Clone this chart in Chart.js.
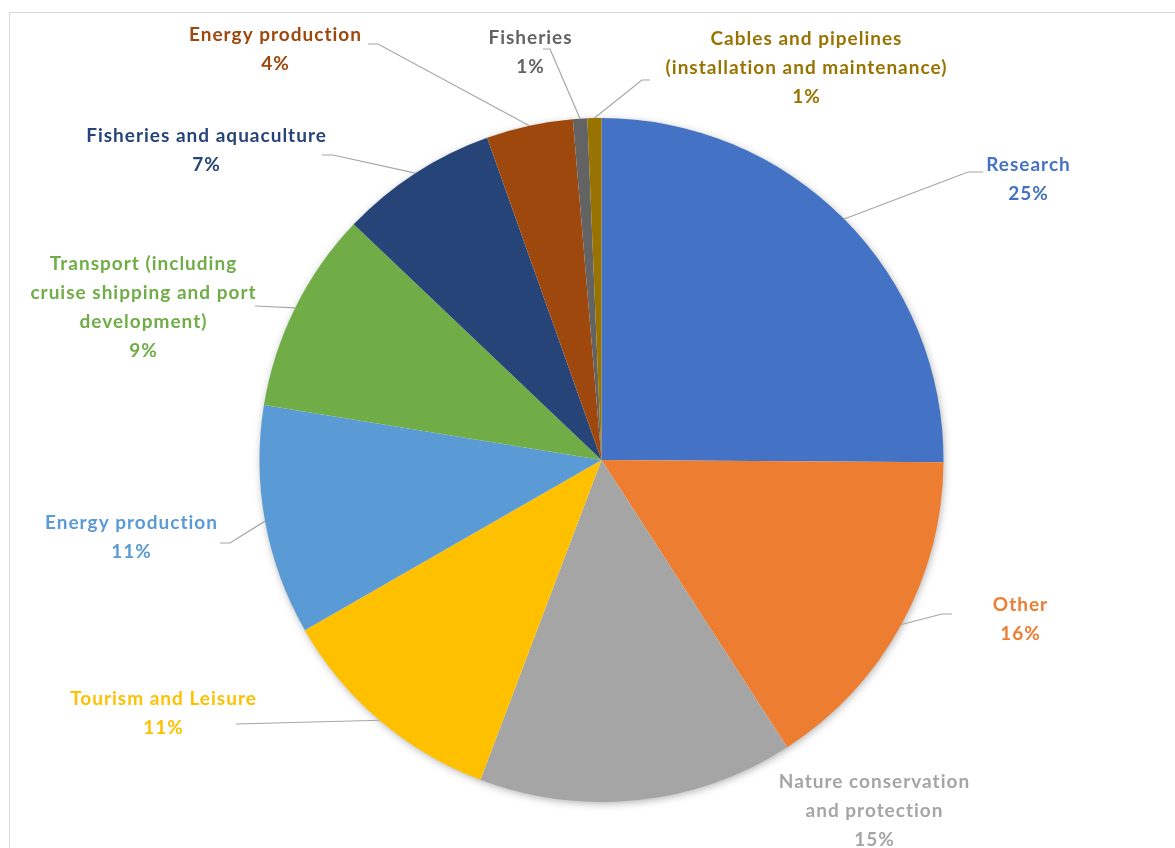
<!DOCTYPE html>
<html>
<head>
<meta charset="utf-8">
<script src="https://cdn.jsdelivr.net/npm/chart.js@4/dist/chart.umd.min.js"></script>
<style>
  html, body { margin: 0; padding: 0; background: #fff; overflow: hidden; }
  #frame {
    position: absolute; left: 9px; top: 12px; width: 1300px; height: 1000px;
    border: 1px solid #d9d9d9; box-sizing: border-box;
  }
  #wrap { position: absolute; left: 0; top: 0; width: 1175px; height: 848px; }
</style>
</head>
<body>
<div id="frame"></div>
<div id="wrap"><canvas id="chartSectors"></canvas></div>
<script>
// Sectors, clockwise from 12 o'clock
const sectorLabels = [
    ['Research'],
    ['Other'],
    ['Nature conservation', 'and protection'],
    ['Tourism and Leisure'],
    ['Energy production'],
    ['Transport (including', 'cruise shipping and port', 'development)'],
    ['Fisheries and aquaculture'],
    ['Energy production'],
    ['Fisheries'],
    ['Cables and pipelines', '(installation and maintenance)']
];
const sectorValues = [25.1, 15.75, 14.89, 10.95, 10.85, 9.53, 7.47, 4.09, 0.675, 0.66];
const sectorPercentText = ['25%', '16%', '15%', '11%', '11%', '9%', '7%', '4%', '1%', '1%'];
const sectorColors = ['#4472C4', '#ED7D31', '#A5A5A5', '#FFC000', '#5B9BD5',
                      '#70AD47', '#264478', '#9E480E', '#636363', '#997300'];

// Label placement (text centre + leader line start/elbow), Excel style
const labelLayout = [
    { x: 1028, y: 165, line: [[983, 172], [968, 172]] },
    { x: 1020, y: 605, line: [[952, 614], [942, 614]] },
    { x: 874,  y: 782, line: null },
    { x: 163,  y: 699, line: [[236, 724]] },
    { x: 131,  y: 523, line: [[220, 543], [230, 543]] },
    { x: 143,  y: 264, line: [[255, 306]] },
    { x: 206,  y: 136, line: [[322, 155], [333, 155]] },
    { x: 275,  y: 35,  line: [[368, 44], [378, 44]] },
    { x: 530,  y: 38,  line: [[543, 49], [550, 49]] },
    { x: 806,  y: 39,  line: [[650, 80], [642, 80]] }
];

const LABEL_FONT = 'bold 19px Lato, "Open Sans", sans-serif';
const LINE_H = 28.8;

// sombra suave por baixo da pizza
const pieShadow = {
    id: 'pieShadow',
    beforeDatasetsDraw(chart) {
        const arc = chart.getDatasetMeta(0).data[0];
        if (!arc) return;
        const ctx = chart.ctx;
        ctx.save();
        ctx.shadowColor = 'rgba(0,0,0,0.35)';
        ctx.shadowBlur = 9;
        ctx.shadowOffsetX = 1;
        ctx.shadowOffsetY = 2;
        ctx.fillStyle = '#ffffff';
        ctx.beginPath();
        ctx.arc(arc.x, arc.y, arc.outerRadius - 1, 0, Math.PI * 2);
        ctx.fill();
        ctx.restore();
    }
};

// rótulos externos com linhas de chamada
const outsideLabels = {
    id: 'outsideLabels',
    afterDatasetsDraw(chart) {
        const ctx = chart.ctx;
        const arcs = chart.getDatasetMeta(0).data;
        ctx.save();
        arcs.forEach((arc, i) => {
            const lay = labelLayout[i];
            if (lay.line) {
                const mid = (arc.startAngle + arc.endAngle) / 2;
                const ex = arc.x + Math.cos(mid) * arc.outerRadius;
                const ey = arc.y + Math.sin(mid) * arc.outerRadius;
                ctx.strokeStyle = '#a6a6a6';
                ctx.lineWidth = 1.2;
                ctx.beginPath();
                ctx.moveTo(lay.line[0][0], lay.line[0][1]);
                for (let k = 1; k < lay.line.length; k++) ctx.lineTo(lay.line[k][0], lay.line[k][1]);
                ctx.lineTo(ex, ey);
                ctx.stroke();
            }
            const lines = sectorLabels[i].concat([sectorPercentText[i]]);
            ctx.font = LABEL_FONT;
            ctx.letterSpacing = '1px';
            ctx.fillStyle = sectorColors[i];
            ctx.textAlign = 'center';
            ctx.textBaseline = 'middle';
            lines.forEach((t, k) => ctx.fillText(t, lay.x + 0.5, lay.y + k * LINE_H));
        });
        ctx.restore();
    }
};

const ctxPie = document.getElementById('chartSectors').getContext('2d');
new Chart(ctxPie, {
    type: 'pie',
    data: {
        labels: sectorLabels.map(l => l.join(' ')),
        datasets: [{
            data: sectorValues,
            backgroundColor: sectorColors,
            borderWidth: 0,
            hoverOffset: 0
        }]
    },
    options: {
        responsive: true,
        maintainAspectRatio: false,
        animation: false,
        events: [],
        layout: { padding: { left: 259.5, top: 118, right: 231.5, bottom: 46 } },
        plugins: {
            legend: { display: false },
            tooltip: { enabled: false }
        }
    },
    plugins: [pieShadow, outsideLabels]
});
</script>
</body>
</html>
